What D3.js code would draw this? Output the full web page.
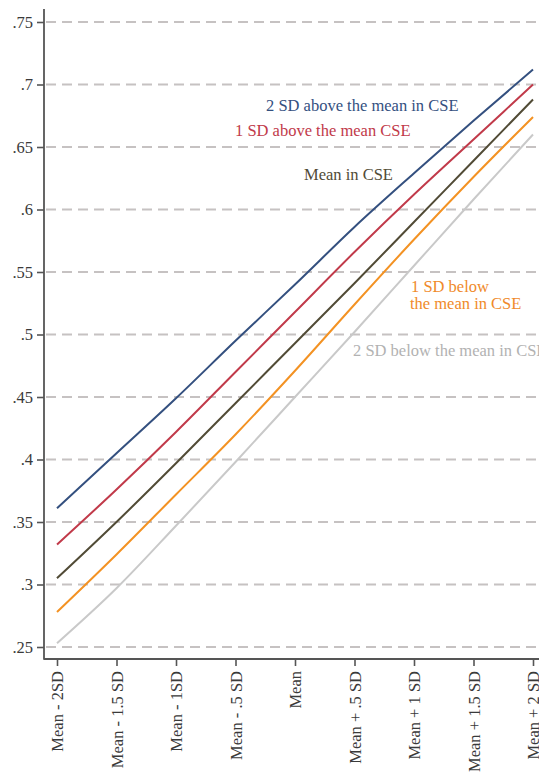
<!DOCTYPE html>
<html>
<head>
<meta charset="utf-8">
<script src="https://cdn.jsdelivr.net/npm/d3@7"></script>
<style>
  html, body { margin: 0; padding: 0; background: #fff; }
  svg { display: block; }
  text { font-family: "Liberation Serif", "DejaVu Serif", serif; }
</style>
</head>
<body>
<div id="chart"></div>
<script>
// ---- data ----
const categories = ["Mean - 2SD", "Mean - 1.5 SD", "Mean - 1SD", "Mean - .5 SD", "Mean",
                    "Mean + .5 SD", "Mean + 1 SD", "Mean + 1.5 SD", "Mean + 2 SD"];
const yTicks = [0.25, 0.3, 0.35, 0.4, 0.45, 0.5, 0.55, 0.6, 0.65, 0.7, 0.75];
const yTickLabels = [".25", ".3", ".35", ".4", ".45", ".5", ".55", ".6", ".65", ".7", ".75"];

const seriesNames = ["2 SD above the mean in CSE", "1 SD above the mean CSE", "Mean in CSE",
                     "1 SD below the mean in CSE", "2 SD below the mean in CSE"];
const plus2SD  = [0.361, 0.405, 0.449, 0.495, 0.540, 0.586, 0.629, 0.671, 0.712];
const plus1SD  = [0.332, 0.376, 0.422, 0.470, 0.518, 0.566, 0.612, 0.656, 0.700];
const meanCSE  = [0.305, 0.350, 0.397, 0.445, 0.493, 0.541, 0.590, 0.639, 0.688];
const minus1SD = [0.278, 0.324, 0.372, 0.420, 0.471, 0.524, 0.576, 0.626, 0.674];
const minus2SD = [0.253, 0.297, 0.347, 0.398, 0.450, 0.502, 0.555, 0.608, 0.660];
const seriesValues = [plus2SD, plus1SD, meanCSE, minus1SD, minus2SD];
const seriesColors = ["#34507f", "#c13a4a", "#514b36", "#f39223", "#c9c9c9"];
const labelColors  = ["#34507f", "#c13a4a", "#514b36", "#f08a2a", "#b2b2b2"];

// ---- layout ----
const W = 539, H = 773;
const svg = d3.select("#chart").append("svg").attr("width", W).attr("height", H);

const axisX = 44, axisBottom = 659, axisTop = 9;
const x = d3.scalePoint().domain(categories).range([57, 533]);
const y = d3.scaleLinear().domain([0.25, 0.75]).range([647, 22]);

// gridlines
svg.append("g").selectAll("line").data(yTicks).join("line")
  .attr("x1", axisX + 2).attr("x2", W)
  .attr("y1", d => y(d)).attr("y2", d => y(d))
  .attr("stroke", "#c6c2c2").attr("stroke-width", 1.8)
  .attr("stroke-dasharray", "10,6");

// y axis
const yAxis = d3.axisLeft(y).tickValues(yTicks)
  .tickFormat((d, i) => yTickLabels[i]).tickSize(7).tickPadding(4);
const gy = svg.append("g").attr("transform", `translate(${axisX},0)`).call(yAxis);
gy.select(".domain").remove();
gy.selectAll(".tick line").attr("stroke", "#555").attr("stroke-width", 1.6);
gy.selectAll(".tick text").attr("font-size", 16.5).attr("fill", "#3a3a3a")
  .attr("font-family", "Liberation Serif, serif");

// x axis
const xAxis = d3.axisBottom(x).tickSize(7).tickPadding(4);
const gx = svg.append("g").attr("transform", `translate(0,${axisBottom})`).call(xAxis);
gx.select(".domain").remove();
gx.selectAll(".tick line").attr("stroke", "#555").attr("stroke-width", 1.6);
gx.selectAll(".tick text")
  .attr("font-size", 16.5).attr("fill", "#3a3a3a")
  .attr("font-family", "Liberation Serif, serif")
  .attr("text-anchor", "end")
  .attr("transform", "rotate(-90)")
  .attr("x", -12).attr("y", 0).attr("dy", "0.36em");

// axis lines
svg.append("line").attr("x1", axisX).attr("x2", axisX).attr("y1", axisTop).attr("y2", axisBottom + 0.8)
  .attr("stroke", "#555").attr("stroke-width", 1.8);
svg.append("line").attr("x1", axisX).attr("x2", W).attr("y1", axisBottom).attr("y2", axisBottom)
  .attr("stroke", "#555").attr("stroke-width", 1.8);

// lines
const line = d3.line()
  .x((d, i) => x(categories[i]))
  .y(d => y(d))
  .curve(d3.curveMonotoneX);

svg.append("g").selectAll("path").data(seriesValues).join("path")
  .attr("d", d => line(d))
  .attr("fill", "none")
  .attr("stroke", (d, i) => seriesColors[i])
  .attr("stroke-width", 2);

// labels
const labelLayout = [
  { x: 266, y: 111 },
  { x: 235, y: 136 },
  { x: 304, y: 180 },
  { x: 411, y: 292 },
  { x: 353, y: 356 }
];
labelLayout.forEach((l, i) => {
  const t = svg.append("text").attr("x", l.x).attr("y", l.y)
    .attr("font-size", 16.5).attr("fill", labelColors[i]);
  const parts = i === 3 ? ["1 SD below", "the mean in CSE"] : [seriesNames[i]];
  parts.forEach((w, j) => {
    t.append("tspan").attr("x", j === 0 ? l.x : l.x - 1).attr("dy", j === 0 ? 0 : 17).text(w);
  });
});
</script>
</body>
</html>
